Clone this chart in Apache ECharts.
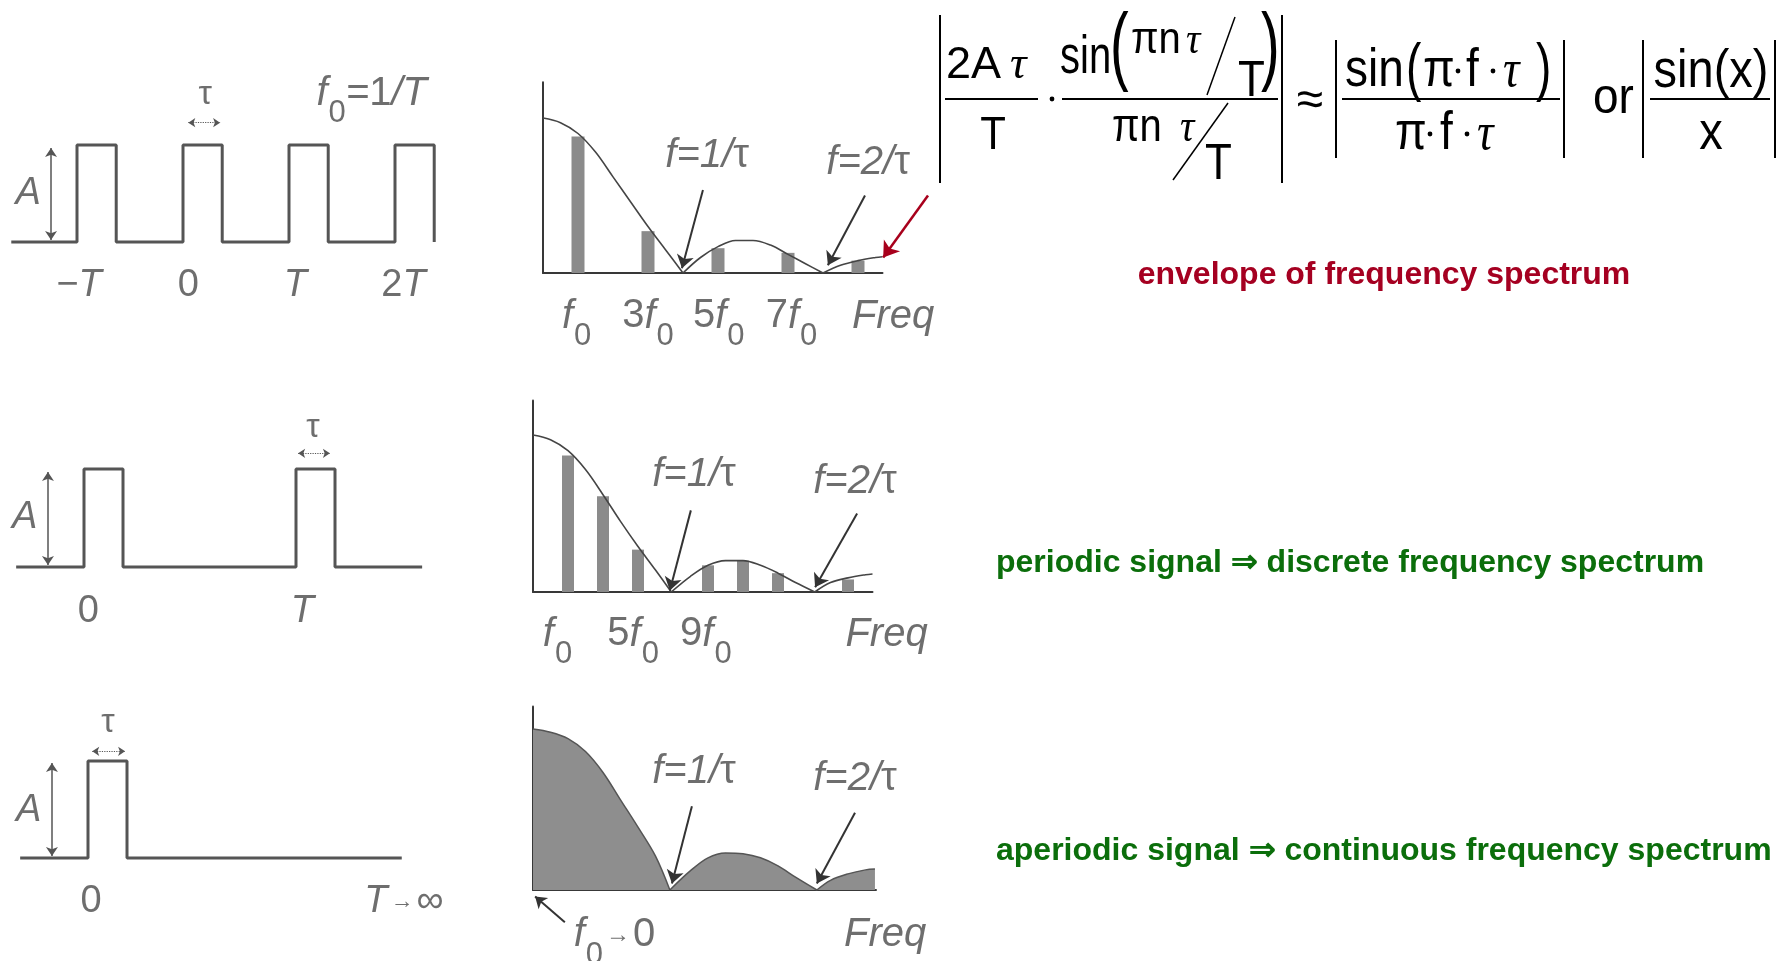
<!DOCTYPE html>
<html><head><meta charset="utf-8">
<script src="https://cdn.jsdelivr.net/npm/echarts@6/dist/echarts.min.js"></script>
<style>html,body{margin:0;padding:0;background:#fff}#c{width:1783px;height:961px}</style>
</head><body><div id="c"></div>
<script>
// ================= DATA =================
// Time-domain pulse trains (time in units of period T, amplitude A = 1)
const pulseStarts1 = [-1, 0, 1, 2];
const pulseWidth1 = 0.37;
const timeSpan1 = [-1.62, 2.37];
const pulseStarts2 = [0, 1];
const pulseWidth2 = 0.184;
const timeSpan2 = [-0.32, 1.595];
const pulseStarts3 = [0];
const pulseWidth3 = 0.184;
const timeSpan3 = [-0.32, 1.48];

// time-axis tick labels
const time1Labels = ['−T', '0', 'T', '2T'];
const time1LabelX = [-0.98, 0.05, 1.06, 2.08];
const time2Labels = ['0', 'T'];
const time2LabelX = [0.02, 1.03];
const time3Labels = ['0', 'T→∞'];
const time3LabelX = [0.014, 1.49];

// Spectra (frequency in units where 1/τ = 4, amplitude normalised to envelope at f = 0)
const envTopX = [0, 0.5, 1, 1.5, 2, 2.5, 3, 3.5, 4, 4.5, 5, 5.5, 6, 6.5, 7, 7.5, 8, 8.5, 9, 9.5, 9.7];
const envTopY = [1, 0.97, 0.9, 0.78, 0.62, 0.46, 0.3, 0.15, 0, 0.1, 0.17, 0.21, 0.21, 0.18, 0.12, 0.06, 0, 0.05, 0.08, 0.1, 0.105];
const barTopX = [1, 3, 5, 7, 9];
const barTopY = [0.88, 0.27, 0.16, 0.13, 0.08];

const envMidX = [0, 0.5, 1, 1.5, 2, 2.5, 3, 3.5, 3.95, 4.5, 5, 5.5, 6, 6.5, 7, 7.5, 8.05, 8.5, 9, 9.5, 9.7];
const envMidY = [1, 0.97, 0.9, 0.78, 0.62, 0.45, 0.29, 0.14, 0, 0.1, 0.17, 0.2, 0.2, 0.17, 0.12, 0.06, 0, 0.06, 0.09, 0.11, 0.115];
const barMidX = [1, 2, 3, 5, 6, 7, 9];
const barMidY = [0.87, 0.61, 0.27, 0.17, 0.2, 0.12, 0.08];

const envBotX = [0, 0.5, 1, 1.5, 2, 2.5, 3, 3.5, 3.91, 4.5, 5, 5.5, 6, 6.5, 7, 7.5, 8.11, 8.5, 9, 9.5, 9.77];
const envBotY = [1, 0.98, 0.94, 0.86, 0.73, 0.56, 0.39, 0.21, 0, 0.12, 0.2, 0.23, 0.225, 0.2, 0.15, 0.08, 0, 0.06, 0.1, 0.125, 0.13];

// spectrum tick labels
const spec1Labels = ['f0', '3f0', '5f0', '7f0', 'Freq'];
const spec1LabelX = [0.96, 3.0, 5.02, 7.1, 10.0];
const spec2Labels = ['f0', '5f0', '9f0', 'Freq'];
const spec2LabelX = [0.7, 2.86, 4.94, 10.1];
const spec3Labels = ['f0→0', 'Freq'];
const spec3LabelX = [2.33, 10.06];
const nullLabels = ['f=1/τ', 'f=2/τ'];

// side captions
const captionEnvelope = 'envelope of frequency spectrum';
const captionPeriodic = 'periodic signal ⇒ discrete frequency spectrum';
const captionAperiodic = 'aperiodic signal ⇒ continuous frequency spectrum';

// ================= HELPERS =================
const FS = "'Liberation Sans', Arial, Helvetica, sans-serif";
const SERIF = "'Liberation Serif', 'DejaVu Serif', serif";
const SCAN = '#4a4a4a';

function stepPoints(starts, width, span) {
  const pts = [[span[0], 0]];
  starts.forEach(s => { pts.push([s, 0], [s, 1], [s + width, 1], [s + width, 0]); });
  const last = starts[starts.length - 1] + width;
  if (span[1] > last) pts.push([span[1], 0]);
  return pts;
}
function lobes(xs, ys) {
  const out = [];
  for (let i = 0; i < xs.length; i++) {
    out.push([xs[i], ys[i]]);
    if (ys[i] === 0 && i > 0 && i < xs.length - 1) { out.push([xs[i], '-']); out.push([xs[i], ys[i]]); }
  }
  return out;
}
function rich(size) {
  return {
    n: { fontFamily: FS, fontSize: size, color: SCAN },
    i: { fontFamily: FS, fontSize: size, fontStyle: 'italic', color: SCAN },
    s: { fontFamily: FS, fontSize: Math.round(size * 0.78), color: SCAN, padding: [Math.round(size * 1.0), 0, 0, 1] },
    a: { fontFamily: FS, fontSize: Math.round(size * 0.6), color: SCAN, padding: [0, 3, 0, 3] }
  };
}
function fmt(s) {
  let out = '';
  for (let k = 0; k < s.length; k++) {
    const ch = s[k];
    if (ch === '0' && k > 0 && s[k - 1] === 'f') out += '{s|0}';
    else if (ch === '→') out += '{a|→}';
    else if (/[A-Za-z=\/]/.test(ch)) out += '{i|' + ch + '}';
    else out += '{n|' + ch + '}';
  }
  return out;
}
function labelSeries(idx, items, size) {
  return {
    type: 'scatter', xAxisIndex: idx, yAxisIndex: idx, symbolSize: 1, clip: false, silent: true,
    itemStyle: { color: 'rgba(0,0,0,0)' },
    label: { show: true, position: 'inside', align: 'center', verticalAlign: 'middle', rich: rich(size),
      formatter: p => p.data.t },
    labelLayout: { hideOverlap: false },
    data: items.map(it => ({ value: [it[0], it[1]], t: it[2] })),
    z: 5
  };
}
function arrowSeries(idx, segs, opts) {
  opts = opts || {};
  return {
    type: 'lines', coordinateSystem: 'cartesian2d', xAxisIndex: idx, yAxisIndex: idx, clip: false, silent: true,
    symbol: opts.symbol || ['none', 'arrow'], symbolSize: opts.size || 13,
    lineStyle: { color: opts.color || '#333', width: opts.width || 2, type: opts.type || 'solid', opacity: 1, curveness: 0 },
    data: segs.map(s => ({ coords: s })), z: 6
  };
}

// ================= GRIDS =================
const grids = [
  { left: 2.8, top: 145, width: 445.2, height: 97 },
  { left: 9.8, top: 469, width: 424, height: 98 },
  { left: 13.8, top: 761, width: 424, height: 97 },
  { left: 543, top: 82.35, width: 339.5, height: 190.65 },
  { left: 533, top: 400.5, width: 339.5, height: 191.5 },
  { left: 533, top: 706.5, width: 343, height: 183.5 }
].map(g => Object.assign({ containLabel: false, outerBoundsMode: 'none' }, g));

const xRanges = [[-1.7, 2.5], [-0.35, 1.65], [-0.35, 1.65], [0, 9.7], [0, 9.7], [0, 9.8]];
const yRanges = [[0, 1], [0, 1], [0, 1], [0, 1.23], [0, 1.22], [0, 1.14]];
const axisLineStyle = { color: '#383838', width: 2 };
const xAxes = xRanges.map((r, i) => ({
  type: 'value', gridIndex: i, min: r[0], max: r[1], show: i >= 3,
  axisLine: { show: true, onZero: false, lineStyle: axisLineStyle }, axisTick: { show: false },
  axisLabel: { show: false }, splitLine: { show: false }
}));
const yAxes = yRanges.map((r, i) => ({
  type: 'value', gridIndex: i, min: r[0], max: r[1], show: i >= 3,
  axisLine: { show: true, onZero: false, lineStyle: axisLineStyle }, axisTick: { show: false },
  axisLabel: { show: false }, splitLine: { show: false }
}));

// ================= SERIES =================
const series = [];
const sigStyle = { color: '#555', width: 3 };
[[pulseStarts1, pulseWidth1, timeSpan1], [pulseStarts2, pulseWidth2, timeSpan2], [pulseStarts3, pulseWidth3, timeSpan3]]
  .forEach((p, i) => series.push({ type: 'line', xAxisIndex: i, yAxisIndex: i, data: stepPoints(p[0], p[1], p[2]),
    symbol: 'none', lineStyle: sigStyle, clip: false, silent: true }));

// bars
series.push({ type: 'bar', xAxisIndex: 3, yAxisIndex: 3, barWidth: 13, itemStyle: { color: '#8b8b8b' },
  data: barTopX.map((x, i) => [x, barTopY[i]]), silent: true });
series.push({ type: 'bar', xAxisIndex: 4, yAxisIndex: 4, barWidth: 12, itemStyle: { color: '#8b8b8b' },
  data: barMidX.map((x, i) => [x, barMidY[i]]), silent: true });
// envelopes
series.push({ type: 'line', xAxisIndex: 3, yAxisIndex: 3, data: lobes(envTopX, envTopY), smooth: 0.35, symbol: 'none',
  lineStyle: { color: '#454545', width: 1.6 }, clip: false, silent: true, z: 3 });
series.push({ type: 'line', xAxisIndex: 4, yAxisIndex: 4, data: lobes(envMidX, envMidY), smooth: 0.35, symbol: 'none',
  lineStyle: { color: '#454545', width: 1.6 }, clip: false, silent: true, z: 3 });
series.push({ type: 'line', xAxisIndex: 5, yAxisIndex: 5, data: lobes(envBotX, envBotY), smooth: 0.35, symbol: 'none',
  lineStyle: { color: '#555', width: 1.5 }, areaStyle: { color: '#8e8e8e', opacity: 1 }, clip: false, silent: true, z: 1 });

// time-panel annotations
const tLab = (labs, xs) => labs.map((l, k) => [xs[k], -0.45, fmt(l)]);
const dblArrow = { symbol: ['arrow', 'arrow'], size: 9, width: 1.5, color: '#555' };
const tauArrow = { symbol: ['arrow', 'arrow'], size: 7, width: 1.2, type: 'dotted', color: '#555' };
series.push(labelSeries(0, tLab(time1Labels, time1LabelX), 38));
series.push(labelSeries(0, [[-1.46, 0.5, '{i|A}']], 38));
series.push(labelSeries(0, [[0.21, 1.52, '{n|τ}']], 34));
series.push(labelSeries(0, [[1.78, 1.53, fmt('f0=1/T')]], 40));
series.push(arrowSeries(0, [[[-1.245, 0.02], [-1.245, 0.97]]], dblArrow));
series.push(arrowSeries(0, [[[0.05, 1.23], [0.35, 1.23]]], tauArrow));

series.push(labelSeries(1, tLab(time2Labels, time2LabelX), 38));
series.push(labelSeries(1, [[-0.28, 0.51, '{i|A}']], 38));
series.push(labelSeries(1, [[1.08, 1.42, '{n|τ}']], 34));
series.push(arrowSeries(1, [[[-0.17, 0.02], [-0.17, 0.97]]], dblArrow));
series.push(arrowSeries(1, [[[1.01, 1.16], [1.16, 1.16]]], tauArrow));

series.push(labelSeries(2, tLab(time3Labels, time3LabelX), 38));
series.push(labelSeries(2, [[-0.28, 0.49, '{i|A}']], 38));
series.push(labelSeries(2, [[0.094, 1.4, '{n|τ}']], 34));
series.push(arrowSeries(2, [[[-0.17, 0.02], [-0.17, 0.98]]], dblArrow));
series.push(arrowSeries(2, [[[0.02, 1.1], [0.175, 1.1]]], tauArrow));

// spectrum annotations
const nl = s => '{i|' + s.slice(0, 4) + '}{n|' + s.slice(4) + '}';
series.push(labelSeries(3, spec1Labels.map((l, k) => [spec1LabelX[k], -0.28, fmt(l)]), 40));
series.push(labelSeries(3, [[4.69, 0.755, nl(nullLabels[0])], [9.29, 0.71, nl(nullLabels[1])]], 40));
series.push(arrowSeries(3, [[[4.57, 0.535], [3.97, 0.03]], [[9.2, 0.5], [8.14, 0.05]]]));
series.push(arrowSeries(3, [[[11.0, 0.5], [9.72, 0.1]]], { color: '#a8001c', width: 2.5, size: 15 }));

series.push(labelSeries(4, spec2Labels.map((l, k) => [spec2LabelX[k], -0.27, fmt(l)]), 40));
series.push(labelSeries(4, [[4.6, 0.745, nl(nullLabels[0])], [9.2, 0.70, nl(nullLabels[1])]], 40));
series.push(arrowSeries(4, [[[4.51, 0.52], [3.91, 0.01]], [[9.26, 0.5], [8.06, 0.03]]]));

series.push(labelSeries(5, spec3Labels.map((l, k) => [spec3LabelX[k], -0.28, fmt(l)]), 40));
series.push(labelSeries(5, [[4.6, 0.735, nl(nullLabels[0])], [9.2, 0.69, nl(nullLabels[1])]], 40));
series.push(arrowSeries(5, [[[4.54, 0.52], [3.97, 0.04]], [[9.2, 0.48], [8.11, 0.04]]]));
series.push(arrowSeries(5, [[[0.91, -0.2], [0.06, -0.04]]], { size: 11 }));

// ================= FORMULA / CAPTIONS (graphic) =================
const G = [];
function gt(s, x, base, size, o) {
  o = o || {};
  const sy = o.sy || 1.12;
  G.push({ type: 'text', x: x, y: base, scaleY: sy, silent: true, z: 10,
    style: { text: s, x: 0, y: -0.25 * size, fontSize: size, fontFamily: o.family || FS,
      fontStyle: o.italic ? 'italic' : 'normal', fontWeight: o.bold ? 'bold' : 'normal',
      fill: o.color || '#000', textAlign: o.align || 'left', textVerticalAlign: 'middle',
      align: o.align || 'left', verticalAlign: 'middle' } });
}
function gl(x1, y1, x2, y2, w) {
  G.push({ type: 'line', silent: true, z: 10, shape: { x1: x1, y1: y1, x2: x2, y2: y2 }, style: { stroke: '#000', lineWidth: w || 2 } });
}
function gd(x, y) { G.push({ type: 'circle', silent: true, z: 10, shape: { cx: x, cy: y, r: 2.4 }, style: { fill: '#000' } }); }

// first |...|
gl(940, 15, 940, 183, 2); gl(1282, 15, 1282, 183, 2);
gt('2A', 946, 77, 45, { sy: 1.0 });
gt('τ', 1010, 77, 46, { family: SERIF, italic: true, sy: 1.0 });
gl(945, 99, 1038, 99, 2);
gt('T', 993, 148, 42, { align: 'center', sy: 1.1 });
gd(1052, 99);
gt('sin', 1060, 72, 40, { sy: 1.35 });
gt('(', 1110, 72, 56, { sy: 1.55 });
gt('πn', 1131, 52, 40, { sy: 1.1 });
gt('τ', 1186, 52, 40, { family: SERIF, italic: true, sy: 1.1 });
gl(1235, 17, 1207, 95, 1.5);
gt('T', 1238, 95, 44, { sy: 1.15 });
gt(')', 1261, 72, 56, { sy: 1.55 });
gl(1062, 99, 1278, 99, 2);
gt('πn', 1112, 140, 40, { sy: 1.15 });
gt('τ', 1180, 140, 40, { family: SERIF, italic: true, sy: 1.15 });
gl(1228, 103, 1173, 180, 1.5);
gt('T', 1205, 178, 44, { sy: 1.15 });
gt('≈', 1310, 114, 48, { align: 'center', sy: 1 });
// second |...|
gl(1336, 40, 1336, 158, 2); gl(1564, 40, 1564, 158, 2);
gt('sin', 1345, 85, 46, { sy: 1.15 });
gt('(', 1406, 87, 46, { sy: 1.4 });
gt('π', 1423, 85, 46, { sy: 1.15 });
gd(1458, 71);
gt('f', 1466, 85, 46, { sy: 1.15 });
gd(1493, 71);
gt('τ', 1503, 85, 46, { family: SERIF, italic: true, sy: 1.15 });
gt(')', 1536, 87, 46, { sy: 1.4 });
gl(1342, 99, 1560, 99, 2);
gt('π', 1395, 148, 46, { sy: 1.15 });
gd(1430, 134);
gt('f', 1440, 148, 46, { sy: 1.15 });
gd(1467, 134);
gt('τ', 1477, 148, 46, { family: SERIF, italic: true, sy: 1.15 });
gt('or', 1593, 112, 46, { sy: 1.1 });
// third |...|
gl(1643, 40, 1643, 158, 2); gl(1775, 40, 1775, 158, 2);
gt('sin(x)', 1711, 86, 47, { align: 'center', sy: 1.15 });
gl(1650, 99, 1770, 99, 2);
gt('x', 1711, 148, 47, { align: 'center', sy: 1.15 });

// captions
gt(captionEnvelope, 1384, 283, 32, { align: 'center', bold: true, color: '#a50021', sy: 1 });
gt(captionPeriodic, 996, 571, 32, { bold: true, color: '#0b6e0b', sy: 1 });
gt(captionAperiodic, 996, 859, 32, { bold: true, color: '#0b6e0b', sy: 1 });

// ================= CHART =================
const chart = echarts.init(document.getElementById('c'), null, { renderer: 'canvas' });
chart.setOption({
  backgroundColor: '#ffffff',
  animation: false,
  grid: grids,
  xAxis: xAxes,
  yAxis: yAxes,
  series: series,
  graphic: { elements: G }
});
</script>
</body></html>
